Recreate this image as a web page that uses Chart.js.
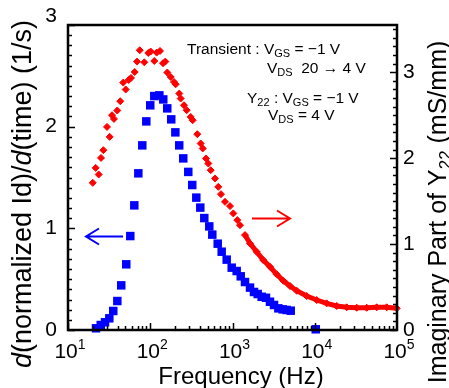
<!DOCTYPE html>
<html>
<head>
<meta charset="utf-8">
<script src="https://cdn.jsdelivr.net/npm/chart.js@4.4.1/dist/chart.umd.min.js"></script>
<style>
  html, body { margin: 0; padding: 0; background: #fff; }
  #wrap { width: 449px; height: 388px; }
</style>
</head>
<body>
<div id="wrap"><canvas id="chart" width="449" height="388"></canvas></div>
<script>
// transient data: d(normalized Id)/d(time), left axis
const blueFreq = [21.9, 25.0, 28.2, 31.8, 35.5, 39.8, 44.4, 51.1, 57.2, 64.0, 71.6, 80.0, 89.5, 100, 112, 129, 144, 161, 180, 202,
  225, 252, 290, 324, 363, 406, 454, 522, 568, 661, 739, 850, 978, 1124, 1259, 1419, 1633, 1825, 2024, 2263,
  2554, 2856, 3197, 3609, 4078, 4560, 5103, 10280];
const blueVal = [0.017, 0.049, 0.076, 0.115, 0.187, 0.285, 0.439, 0.646, 0.924, 1.226, 1.541, 1.816, 2.052, 2.210, 2.301, 2.308, 2.268, 2.180, 2.072, 1.944,
  1.816, 1.688, 1.555, 1.426, 1.302, 1.204, 1.101, 1.019, 0.938, 0.849, 0.770, 0.692, 0.613, 0.580, 0.528, 0.472, 0.417, 0.374, 0.354, 0.327,
  0.317, 0.278, 0.246, 0.213, 0.203, 0.197, 0.190, 0.007];

// Y22 imaginary part (mS/mm), right axis
const redFreq = [20.0, 21.7, 23.6, 25.2, 26.9, 29.8, 32.1, 34.3, 36.2, 39.7, 43.2, 47.0, 50.3, 54.7, 58.3, 64.7, 69.0, 74.5, 84.7, 94.7,
  101.2, 112, 119.7, 131.4, 143, 152.5, 161.2, 177.4, 194.5, 203.8, 225.4, 234.4, 257.2, 277.4, 310.3, 328.2, 373.3, 410.4, 434.5, 476.4,
  508, 543.2, 612.7, 671.8, 724.4, 810.6, 932.8, 1023, 1144, 1233, 1419, 1632, 1968, 2366, 2856, 3443, 4150, 5003, 6036, 7984,
  10560, 13970, 18490, 24440, 32360, 42850, 56630, 74990, 99100];
const redVal = [1.713, 1.887, 1.810, 2.003, 2.093, 2.364, 2.248, 2.500, 2.457, 2.555, 2.663, 2.880, 2.799, 2.910, 2.934, 3.003, 3.124, 3.256, 3.116, 3.224,
  3.241, 3.131, 3.229, 3.248, 3.105, 3.124, 2.997, 2.945, 2.887, 2.860, 2.752, 2.694, 2.616, 2.558, 2.480, 2.442, 2.279, 2.171, 2.113, 1.997,
  1.938, 1.860, 1.764, 1.666, 1.581, 1.492, 1.442, 1.357, 1.279, 1.220, 1.105, 1.008, 0.910, 0.814, 0.736, 0.648, 0.573, 0.512, 0.457, 0.395,
  0.349, 0.310, 0.279, 0.264, 0.259, 0.259, 0.264, 0.264, 0.252];

const xExps = [1, 2, 3, 4, 5];
const leftTicks = [0, 1, 2, 3];
const rightTicks = [0, 1, 2, 3];

const FONT = '"Liberation Sans", Arial, sans-serif';

// draw a row of text pieces: [text, size, italic, dy]
function richWidth(ctx, runs) {
  let w = 0;
  runs.forEach(r => {
    ctx.font = (r[2] ? 'italic ' : '') + r[1] + 'px ' + FONT;
    w += ctx.measureText(r[0]).width;
  });
  return w;
}
function drawRich(ctx, runs, x, y, align) {
  let cx = x;
  if (align === 'center') cx = x - richWidth(ctx, runs) / 2;
  ctx.textAlign = 'left';
  ctx.textBaseline = 'alphabetic';
  runs.forEach(r => {
    ctx.font = (r[2] ? 'italic ' : '') + r[1] + 'px ' + FONT;
    ctx.fillText(r[0], cx, y + (r[3] || 0));
    cx += ctx.measureText(r[0]).width;
  });
}

function arrow(ctx, x1, x2, y, color) {
  const dir = x2 > x1 ? 1 : -1;
  ctx.strokeStyle = color;
  ctx.lineWidth = 2;
  ctx.beginPath();
  ctx.moveTo(x1, y);
  ctx.lineTo(x2, y);
  ctx.moveTo(x2 - dir * 13, y - 8);
  ctx.lineTo(x2, y);
  ctx.lineTo(x2 - dir * 13, y + 8);
  ctx.stroke();
}

const decor = {
  id: 'decor',
  afterDraw(chart) {
    const { ctx, chartArea: a, scales } = chart;
    const x = scales.x, yL = scales.y, yR = scales.y2;
    ctx.save();
    ctx.strokeStyle = '#000';
    ctx.fillStyle = '#000';

    // inner ticks
    ctx.lineWidth = 1.5;
    ctx.beginPath();
    for (let i = 0; i <= 30; i++) {
      const py = Math.round(yL.getPixelForValue(i / 10)) + 0.5;
      const len = i % 10 === 0 ? 7 : 4;
      ctx.moveTo(a.left, py); ctx.lineTo(a.left + len, py);
    }
    for (let i = 0; i <= 35; i++) {
      const py = Math.round(yR.getPixelForValue(i / 10)) + 0.5;
      const len = i % 10 === 0 ? 7 : 4;
      ctx.moveTo(a.right, py); ctx.lineTo(a.right - len, py);
    }
    for (let e = 1; e < 5; e++) {
      for (let m = 1; m < 10; m++) {
        const px = Math.round(x.getPixelForValue(m * Math.pow(10, e))) + 0.5;
        const len = m === 1 ? 7 : 4;
        ctx.moveTo(px, a.bottom); ctx.lineTo(px, a.bottom - len);
      }
    }
    ctx.stroke();

    // frame
    ctx.lineWidth = 2.5;
    ctx.strokeRect(a.left, a.top, a.right - a.left, a.bottom - a.top);

    // tick labels
    ctx.font = '21px ' + FONT;
    ctx.textBaseline = 'middle';
    ctx.textAlign = 'right';
    leftTicks.forEach(v => {
      let py = yL.getPixelForValue(v);
      if (v === 3) py -= 9;
      ctx.fillText(String(v), 57, py);
    });
    ctx.textAlign = 'left';
    rightTicks.forEach(v => {
      ctx.fillText(String(v), 403, yR.getPixelForValue(v));
    });
    xExps.forEach(e => {
      const px = x.getPixelForValue(Math.pow(10, e));
      const runs = [['10', 21, false, 0], [String(e), 14, false, -9]];
      const w = richWidth(ctx, runs);
      drawRich(ctx, runs, px + 2 - w / 2, 358, 'left');
    });

    // axis titles
    drawRich(ctx, [['Frequency (Hz)', 24, false, 0]], 241, 384, 'center');

    ctx.save();
    ctx.translate(31, 194);
    ctx.rotate(-Math.PI / 2);
    drawRich(ctx, [['d', 27, true], ['(normalized Id)/', 27, false], ['d', 27, true], ['(time) (1/s)', 27, false]], 0, 0, 'center');
    ctx.restore();

    ctx.save();
    ctx.translate(446, 212);
    ctx.rotate(-Math.PI / 2);
    drawRich(ctx, [['Imaginary Part of Y', 25, false, 0], ['22', 17, false, 5], [' (mS/mm)', 25, false, 0]], 0, 0, 'center');
    ctx.restore();

    // annotation
    const fs = 15.5, ss = 11;
    drawRich(ctx, [['Transient : V', fs], ['GS', ss, false, 3], [' = \u22121 V', fs]], 187, 54, 'left');
    drawRich(ctx, [['V', fs], ['DS', ss, false, 3], ['  20 \u2192 4 V', fs]], 267, 73, 'left');
    drawRich(ctx, [['Y', fs], ['22', ss, false, 3], [' : V', fs], ['GS', ss, false, 3], [' = \u22121 V', fs]], 247, 103, 'left');
    drawRich(ctx, [['V', fs], ['DS', ss, false, 3], [' = 4 V', fs]], 268, 120, 'left');

    // arrows
    arrow(ctx, 123, 86, 236.5, '#0000ff');
    arrow(ctx, 252, 290, 218.5, '#ff0000');

    ctx.restore();
  }
};

new Chart(document.getElementById('chart'), {
  type: 'scatter',
  data: {
    datasets: [
      {
        label: 'Y22',
        data: redFreq.map((f, i) => ({ x: f, y: redVal[i] })),
        yAxisID: 'y2',
        pointStyle: 'rectRot',
        pointRadius: 3.5,
        pointBackgroundColor: '#ff0000',
        pointBorderColor: '#ff0000',
        pointBorderWidth: 1,
        showLine: true,
        borderWidth: 5,
        segment: {
          borderColor: c => c.p0.parsed.x >= 1300 ? '#ff0000' : 'rgba(0,0,0,0)'
        },
        clip: false
      },
      {
        label: 'Transient',
        data: blueFreq.map((f, i) => ({ x: f, y: blueVal[i] })),
        yAxisID: 'y',
        pointStyle: 'rect',
        pointRadius: 6,
        pointBackgroundColor: '#0000ff',
        pointBorderWidth: 0,
        showLine: false,
        clip: false
      }
    ]
  },
  options: {
    responsive: false,
    animation: false,
    devicePixelRatio: 1,
    layout: { padding: { left: 68, right: 52, top: 25, bottom: 58 } },
    plugins: { legend: { display: false }, tooltip: { enabled: false } },
    scales: {
      x: { type: 'logarithmic', min: 10, max: 100000, display: false },
      y: { type: 'linear', min: 0, max: 3, display: false },
      y2: { type: 'linear', position: 'right', min: 0, max: 3.55, display: false }
    }
  },
  plugins: [decor]
});
</script>
</body>
</html>
